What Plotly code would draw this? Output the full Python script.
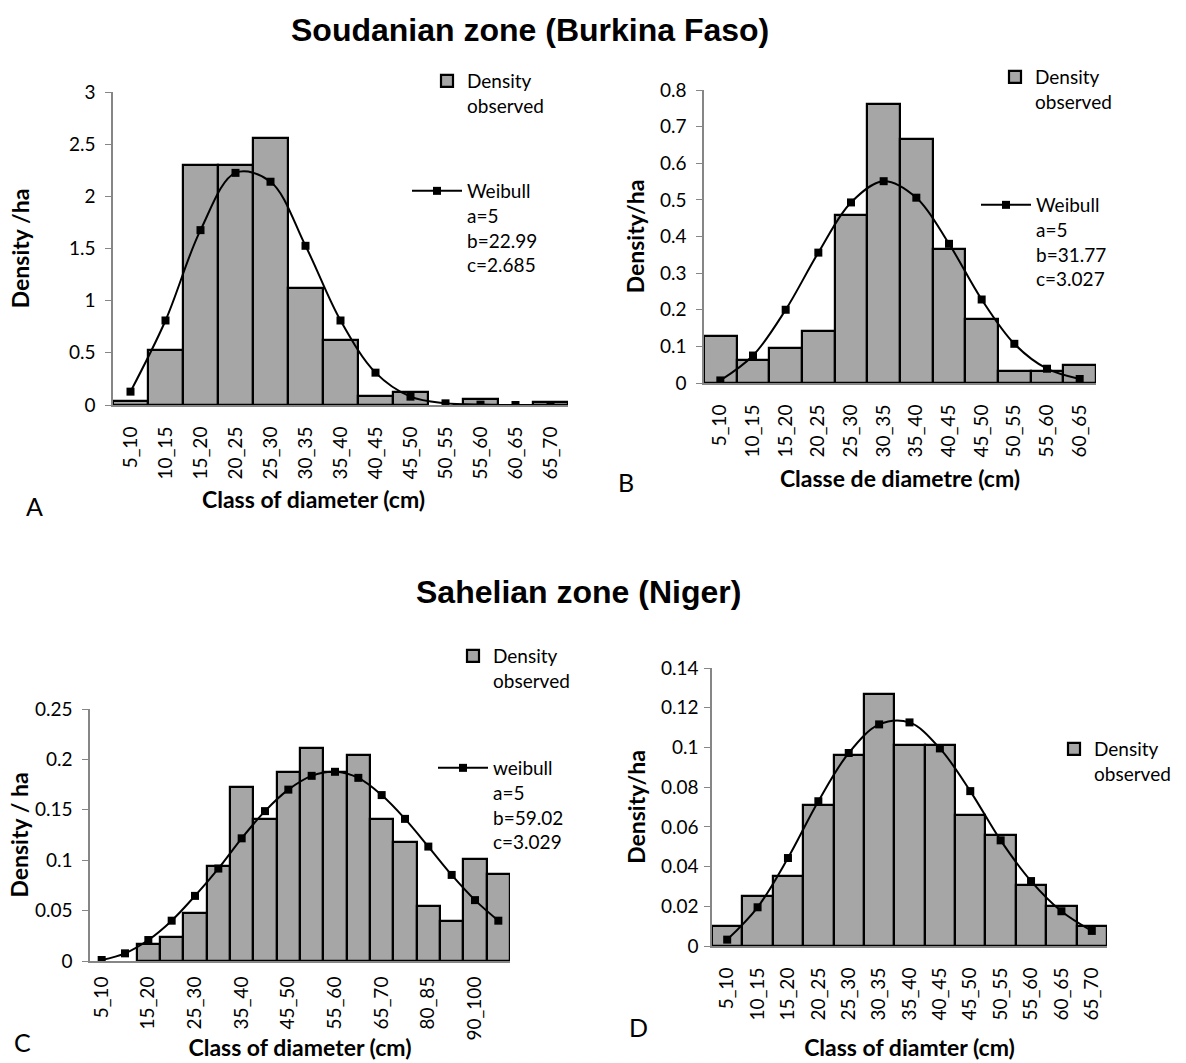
import plotly.graph_objects as go

# ---------------- data ----------------
cats_A = ['5_10', '10_15', '15_20', '20_25', '25_30', '30_35', '35_40',
          '40_45', '45_50', '50_55', '55_60', '60_65', '65_70']
obs_A = [0.04, 0.53, 2.30, 2.30, 2.56, 1.12, 0.62, 0.09, 0.12, None, 0.06, None, 0.03]
wei_A = [0.128, 0.81, 1.676, 2.225, 2.14, 1.526, 0.81, 0.31, 0.08, 0.016, 0.003, 0.0, 0.0]

cats_B = ['5_10', '10_15', '15_20', '20_25', '25_30', '30_35', '35_40',
          '40_45', '45_50', '50_55', '55_60', '60_65']
obs_B = [0.127, 0.064, 0.095, 0.143, 0.46, 0.761, 0.666, 0.365, 0.175, 0.032, 0.032, 0.048]
wei_B = [0.007, 0.075, 0.2, 0.356, 0.493, 0.551, 0.506, 0.38, 0.228, 0.107, 0.039, 0.011]

cats_C = ['5_10', '10_15', '15_20', '20_25', '25_30', '30_35', '35_40', '40_45',
          '45_50', '50_55', '55_60', '60_65', '65_70', '70_80', '80_85', '85_90',
          '90_100', '100_110']
ticks_C = ['5_10', '15_20', '25_30', '35_40', '45_50', '55_60', '65_70', '80_85', '90_100']
obs_C = [None, None, 0.0165, 0.024, 0.048, 0.0947, 0.173, 0.1405, 0.188, 0.2114,
         0.188, 0.204, 0.141, 0.118, 0.055, 0.0396, 0.1016, 0.0864]
wei_C = [0.001, 0.0076, 0.0208, 0.04, 0.0646, 0.0917, 0.1217, 0.1487, 0.17, 0.1837,
         0.1877, 0.1817, 0.1646, 0.141, 0.1135, 0.0854, 0.0604, 0.04]

cats_D = ['5_10', '10_15', '15_20', '20_25', '25_30', '30_35', '35_40',
          '40_45', '45_50', '50_55', '55_60', '60_65', '65_70']
obs_D = [0.0102, 0.0253, 0.0354, 0.0712, 0.0964, 0.1267, 0.1012, 0.1012, 0.066,
         0.0559, 0.0306, 0.0203, 0.0102]
wei_D = [0.0032, 0.0195, 0.0443, 0.0729, 0.0972, 0.1116, 0.1126, 0.0995, 0.078,
         0.0532, 0.0327, 0.0175, 0.0076]

# ---------------- style ----------------
W, H = 1186, 1063
BAR_FILL = '#A6A6A6'
AXIS_GREY = '#868686'
FONT = 'Lato'
TITLE_FONT = 'Liberation Sans'


def px_x(v):
    return v / W


def px_y(v):
    return 1 - v / H


fig = go.Figure()

panels = [
    (cats_A, obs_A, wei_A, 'Weibull<br>a=5<br>b=22.99<br>c=2.685', 'x', 'y', 'legend', 'legend2'),
    (cats_B, obs_B, wei_B, 'Weibull<br>a=5<br>b=31.77<br>c=3.027', 'x2', 'y2', 'legend3', 'legend4'),
    (cats_C, obs_C, wei_C, 'weibull<br>a=5<br>b=59.02<br>c=3.029', 'x3', 'y3', 'legend5', 'legend6'),
    (cats_D, obs_D, wei_D, 'Weibull', 'x4', 'y4', 'legend7', None),
]

for cats, obs, wei, wname, xa, ya, lg_bar, lg_line in panels:
    fig.add_trace(go.Bar(
        x=cats, y=obs, xaxis=xa, yaxis=ya, name='Density<br>observed',
        marker=dict(color=BAR_FILL, line=dict(color='black', width=2.2)),
        legend=lg_bar, showlegend=True,
    ))
    fig.add_trace(go.Scatter(
        x=cats, y=wei, xaxis=xa, yaxis=ya, name=wname, mode='lines+markers',
        line=dict(color='black', width=2, shape='spline', smoothing=1.0),
        marker=dict(symbol='square', size=8, color='black'),
        legend=lg_line if lg_line else 'legend7', showlegend=lg_line is not None,
    ))

# ---------------- axes ----------------
tickfont = dict(family=FONT, size=19, color='black')
titlefont = dict(family=FONT, size=23, color='black', weight='bold')


def xaxis_cfg(domain, cats, title, anchor, standoff, tickvals=None, labelgap=12):
    d = dict(domain=domain, type='category', range=[-0.5, len(cats) - 0.5],
             tickangle=-90, tickfont=tickfont,
             showline=True, linecolor=AXIS_GREY, linewidth=2, ticks='',
             ticklabelstandoff=labelgap, anchor=anchor, automargin=False,
             showgrid=False, zeroline=False, fixedrange=True,
             title=dict(text=title, font=titlefont, standoff=standoff))
    if tickvals is not None:
        d['tickmode'] = 'array'
        d['tickvals'] = tickvals
        d['ticktext'] = tickvals
    return d


def yaxis_cfg(domain, rng, dtick, title, anchor, standoff, labelgap=6):
    return dict(domain=domain, range=rng, dtick=dtick, tick0=0, tickfont=tickfont,
                showline=True, linecolor=AXIS_GREY, linewidth=1.5, ticks='outside',
                tickcolor=AXIS_GREY, ticklen=6, showgrid=False, zeroline=False,
                ticklabelstandoff=labelgap,
                anchor=anchor, fixedrange=True, automargin=False,
                title=dict(text=title, font=titlefont, standoff=standoff))


fig.update_layout(
    xaxis=xaxis_cfg([px_x(113), px_x(568)], cats_A, '', 'y', 14),
    yaxis=yaxis_cfg([px_y(405), px_y(92)], [0, 3], 0.5, 'Density /ha', 'x', 33),
    xaxis2=xaxis_cfg([px_x(704), px_x(1096)], cats_B, 'Classe de diametre (cm)', 'y2', 14),
    yaxis2=yaxis_cfg([px_y(383), px_y(90)], [0, 0.8], 0.1, 'Density/ha', 'x2', 9),
    xaxis3=xaxis_cfg([px_x(90), px_x(510)], cats_C, 'Class of diameter (cm)', 'y3', 0,
                     ticks_C, labelgap=6),
    yaxis3=yaxis_cfg([px_y(961), px_y(709)], [0, 0.25], 0.05, 'Density / ha', 'x3', 0),
    xaxis4=xaxis_cfg([px_x(712), px_x(1107)], cats_D, 'Class of diamter (cm)', 'y4', 20),
    yaxis4=yaxis_cfg([px_y(946), px_y(668)], [0, 0.14], 0.02, 'Density/ha', 'x4', 9, 2),
)

# ---------------- legends ----------------
legfont = dict(family=FONT, size=19, color='black')


def leg(xp, yp, itemwidth=30):
    return dict(x=px_x(xp), y=px_y(yp), xanchor='left', yanchor='top',
                bgcolor='rgba(0,0,0,0)', font=legfont, valign='top',
                itemwidth=itemwidth, tracegroupgap=0, borderwidth=0,
                itemclick=False, itemdoubleclick=False)


fig.update_layout(
    legend=leg(427, 62),
    legend2=leg(407, 172, 50),
    legend3=leg(995, 58),
    legend4=leg(976, 186, 50),
    legend5=leg(453, 637),
    legend6=leg(433, 749, 50),
    legend7=leg(1054, 730),
)

# ---------------- titles & panel letters ----------------
ann = []
ann.append(dict(text='<b>Soudanian zone (Burkina Faso)</b>', x=px_x(530), y=px_y(30),
                xref='paper', yref='paper', showarrow=False, xanchor='center', yanchor='middle',
                font=dict(family=TITLE_FONT, size=32, color='black')))
ann.append(dict(text='<b>Sahelian zone (Niger)</b>', x=px_x(578), y=px_y(592),
                xref='paper', yref='paper', showarrow=False, xanchor='center', yanchor='middle',
                font=dict(family=TITLE_FONT, size=32, color='black')))
# x-axis title of panel A (sits left of the plot-area centre in the original)
ann.append(dict(text='<b>Class of diameter (cm)</b>', x=px_x(313), y=px_y(499),
                xref='paper', yref='paper', showarrow=False, xanchor='center', yanchor='middle',
                font=titlefont))
for letter, lx, ly in [('A', 34, 506), ('B', 626, 482), ('C', 22, 1042), ('D', 638, 1027)]:
    ann.append(dict(text=letter, x=px_x(lx), y=px_y(ly), xref='paper', yref='paper',
                    showarrow=False, xanchor='center', yanchor='middle',
                    font=dict(family=FONT, size=25, color='black')))

fig.update_layout(
    template='none',
    annotations=ann,
    width=W, height=H,
    margin=dict(l=0, r=0, t=0, b=0, autoexpand=False),
    paper_bgcolor='white', plot_bgcolor='white',
    bargap=0,
    showlegend=True,
    font=dict(family=FONT, color='black'),
)

fig.write_html('out.html', config={'displayModeBar': False},
               post_script="document.body.style.margin='0';")
